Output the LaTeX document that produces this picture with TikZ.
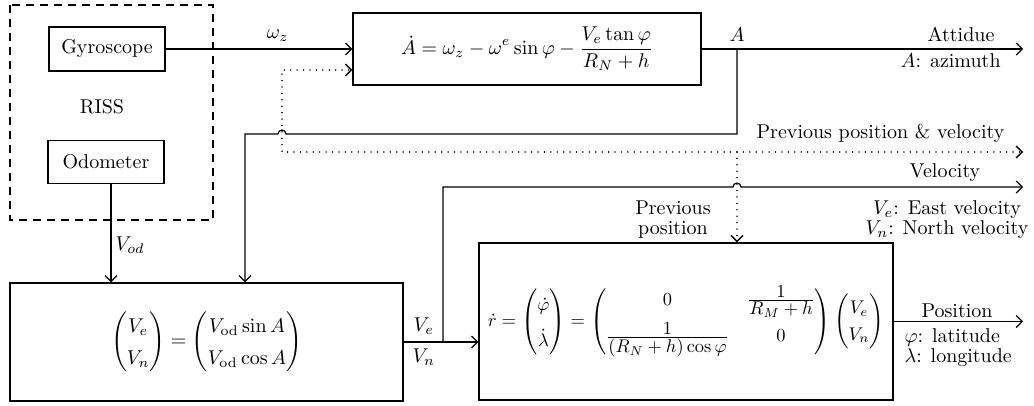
\documentclass[tikz,border=0pt]{standalone}
\usepackage{amsmath,amssymb,graphicx}
\usetikzlibrary{arrows.meta,positioning}
\newcommand{\fr}[2]{\frac{\textstyle #1}{\textstyle #2}}
\tikzset{
  blk/.style={draw,line width=0.6pt,inner sep=0pt,align=center},
  arr/.style={-{Straight Barb[length=3pt,width=6pt]}},
  dots/.style={line width=0.7pt,dash pattern=on 0.01pt off 3.2pt,line cap=round},
  riss/.style={draw,line width=0.6pt,dash pattern=on 4pt off 3pt},
  two/.style={inner sep=0pt,font=\fontsize{10}{10}\selectfont},
}

\begin{document}
\begin{tikzpicture}[x=0.5pt,y=-0.5pt,line width=0.6pt]
  \useasboundingbox (0,0) rectangle (1034,406);
  % RISS sensors
  \draw[riss] (10,5) rectangle (213,220);
  \node[blk,minimum width=58pt,minimum height=22pt] (gyro) at (107,49) {Gyroscope};
  \node (riss) at (102,107) {RISS};
  \node[blk,minimum width=58pt,minimum height=21.5pt] (odo) at (106,162) {Odometer};
  % mechanization blocks
  \node[blk,minimum width=174pt,minimum height=36pt] (att) at (527,49)
    {$\displaystyle \dot{A}=\omega_z-\omega^e\sin\varphi-\frac{V_e\tan\varphi}{R_N+h}$};
  \node[blk,minimum width=196.5pt,minimum height=59pt] (vel) at (206.5,342)
    {\renewcommand{\arraystretch}{1.35}$\begin{pmatrix}V_e\\ V_n\end{pmatrix}=\begin{pmatrix}V_{\mathrm{od}}\sin A\\ V_{\mathrm{od}}\cos A\end{pmatrix}$};
  \node[blk,minimum width=207pt,minimum height=78.5pt] (pos) at (686,321.5)
    {\scalebox{0.92}{$\dot{r}={\renewcommand{\arraystretch}{1.6}\begin{pmatrix}\dot{\varphi}\\ \dot{\lambda}\end{pmatrix}}
      =\begin{pmatrix}0 & \fr{1}{R_M+h}\\[6pt] \fr{1}{(R_N+h)\cos\varphi} & 0\end{pmatrix}
      {\renewcommand{\arraystretch}{1.2}\begin{pmatrix}V_e\\ V_n\end{pmatrix}}$}};
  % junctions and free ends
  \coordinate (aj) at (737,49);   \coordinate (attout) at (1023,49);
  \coordinate (fb) at (245,134);
  \coordinate (pj) at (737,152);  \coordinate (pout) at (1023,152);
  \coordinate (pc) at (282,152);  \coordinate (pl) at (282,70);
  \coordinate (vj) at (443,342);  \coordinate (vout) at (1023,187);
  % solid connectors
  \draw[arr] (gyro.east) -- node[pos=0.6,above] (wz) {$\omega_z$} (att.west);
  \draw[arr] (att.east) -- (attout);
  \draw[arr] (aj) -- (aj |- fb) -- (286,134) arc (0:180:2pt) -- (fb) -- (fb |- vel.north);
  \draw[arr] ([xshift=2.5pt]odo.south) -- node[pos=0.62,right,inner sep=2pt] (vod) {$V_{od}$} ([xshift=2.5pt]odo.south |- vel.north);
  \draw[arr] (vel.east) -- node[pos=0.27,above] (ve) {$V_e$} node[pos=0.27,below] (vn) {$V_n$} (vel.east -| pos.west);
  \draw[arr] (vj) -- (vj |- vout) -- (733,187) arc (180:0:2pt) -- (vout);
  \draw[arr] (pos.east) -- (pos.east -| vout);
  % dotted feedback
  \draw[dots,arr] (pj) -- (pout);
  \draw[dots,arr] (pj) -- (pc) -- (pl) -- (pl -| att.west);
  \draw[dots,arr] (pj) -- (pj |- pos.north);
  % labels
  \node[anchor=base] (alb) at (737,42) {$A$};
  \node[anchor=base east,inner sep=0pt] (attl) at (995,42) {Attidue};
  \node[anchor=base west,inner sep=0pt] (azi) at (900,68) {$A$: azimuth};
  \node[anchor=base east,inner sep=0pt] (prev) at (1005,139) {Previous position \& velocity};
  \node[anchor=base,inner sep=0pt] (vlbl) at (945,178) {Velocity};
  \node[two,align=center,anchor=north] (vdesc) at (947,200) {$V_e$: East velocity\\$V_n$: North velocity};
  \node[two,align=center,anchor=north] (prevp) at (673,200) {Previous\\position};
  \node[anchor=base,inner sep=0pt] (plbl) at (957,318) {Position};
  \node[two,align=left,anchor=north west] (pdesc) at (904,328) {$\varphi$: latitude\\$\lambda$: longitude};
\end{tikzpicture}
\end{document}
